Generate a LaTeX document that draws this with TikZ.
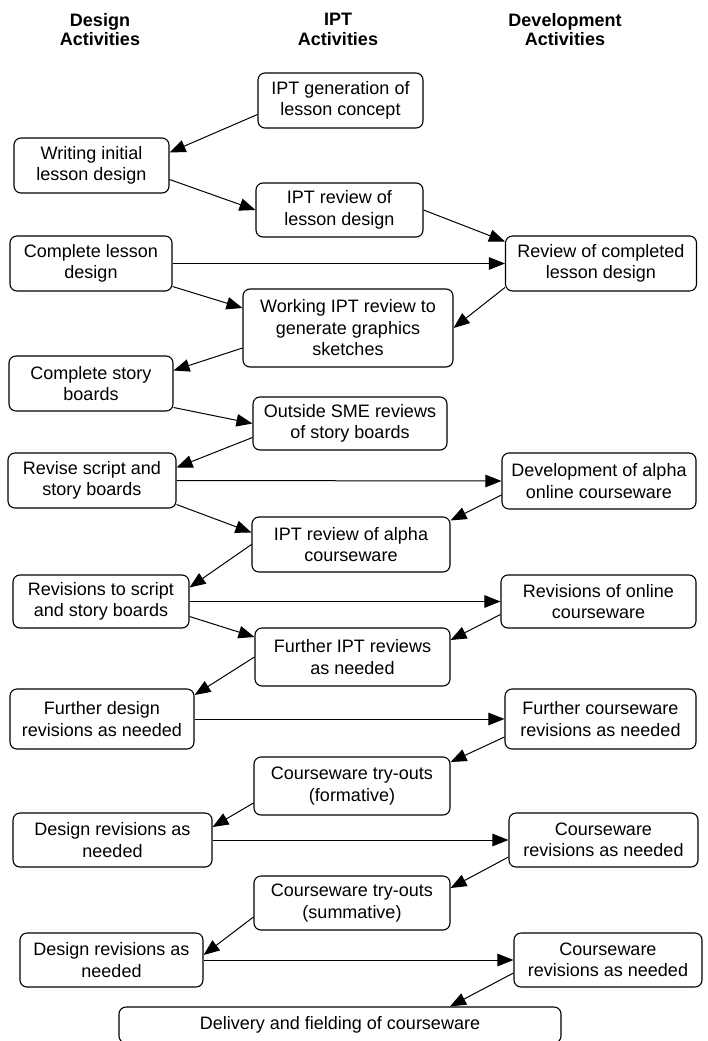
\documentclass[tikz,border=0pt]{standalone}
\usepackage{fontspec}
\setmainfont{Liberation Sans}
\usetikzlibrary{arrows.meta}

\begin{document}
\begin{tikzpicture}[x=1pt,y=-1pt,
    box/.style={draw, rounded corners=7pt, line width=1.1pt, align=center, inner sep=0pt, font=\fontsize{18}{21.5}\selectfont},
    sz/.style 2 args={minimum width=#1pt, minimum height=#2pt},
    hdr/.style={align=center, font=\fontsize{18}{19.5}\selectfont\bfseries},
    flow/.style={-{Triangle[length=16pt,width=12.5pt]}, line width=1pt}]
  \useasboundingbox (0,0) rectangle (707,1041);

  % column headings
  \node[hdr] (hdes) at (100,29.5) {Design\\Activities};
  \node[hdr] (hipt) at (338,29.5) {IPT\\Activities};
  \node[hdr] (hdev) at (565,29.5) {Development\\Activities};

  % activities
  \node[box, sz={165}{55}] (gen) at (340.5,100.5) {IPT generation of\\lesson concept};
  \node[box, sz={155}{55}] (write) at (91.5,165.5) {Writing initial\\lesson design};
  \node[box, sz={167}{54}] (rev) at (339.5,210) {IPT review of\\lesson design};
  \node[box, sz={162}{55}] (cl) at (91,263.5) {Complete lesson\\design};
  \node[box, sz={191}{55}] (revc) at (601,263.5) {Review of completed\\lesson design};
  \node[box, sz={210}{78}] (work) at (348,328) {Working IPT review to\\generate graphics\\sketches};
  \node[box, sz={164}{55}] (cs) at (91,383.5) {Complete story\\boards};
  \node[box, sz={194}{53}] (sme) at (350,423.5) {Outside SME reviews\\of story boards};
  \node[box, sz={168}{55}] (revs) at (92,480.5) {Revise script and\\story boards};
  \node[box, sz={194}{56}] (dev) at (599,481) {Development of alpha\\online courseware};
  \node[box, sz={198}{55}] (alrev) at (351,544.5) {IPT review of alpha\\courseware};
  \node[box, sz={176}{53}] (rts) at (101,601.5) {Revisions to script\\and story boards};
  \node[box, sz={195}{53}] (ro) at (598.5,601.5) {Revisions of online\\courseware};
  \node[box, sz={195}{58}] (fipt) at (352.5,657) {Further IPT reviews\\as needed};
  \node[box, sz={184}{60}] (fd) at (102,719) {Further design\\revisions as needed};
  \node[box, sz={191}{60}] (fc) at (600.5,719) {Further courseware\\revisions as needed};
  \node[box, sz={196}{58}] (try1) at (352,786) {Courseware try-outs\\(formative)};
  \node[box, sz={199}{54}] (dr1) at (112.5,840) {Design revisions as\\needed};
  \node[box, sz={189}{54}] (cr1) at (603.5,840) {Courseware\\revisions as needed};
  \node[box, sz={196}{54}] (try2) at (352,903) {Courseware try-outs\\(summative)};
  \node[box, sz={183}{54}] (dr2) at (111.5,960) {Design revisions as\\needed};
  \node[box, sz={188}{54}] (cr2) at (608,960) {Courseware\\revisions as needed};
  \node[box, sz={442}{36}] (del) at (340,1025) {Delivery and fielding of courseware};

  % connectors
  \draw[flow] ([yshift=-14pt]gen.west) -- ([yshift=13pt]write.east);
  \draw[flow] ([yshift=-14pt]write.east) -- (rev.west);
  \draw[flow] (rev.east) -- ([yshift=22pt]revc.west);
  \draw[flow] (cl.east) -- (revc.west);
  \draw[flow] ([yshift=-23pt]cl.east) -- ([yshift=20pt]work.west);
  \draw[flow] ([yshift=-24pt]revc.west) -- (work.east);
  \draw[flow] ([yshift=-20pt]work.west) -- ([yshift=13pt]cs.east);
  \draw[flow] ([yshift=-24pt]cs.east) -- (sme.west);
  \draw[flow] ([yshift=-14pt]sme.west) -- ([yshift=13pt]revs.east);
  \draw[flow] (revs.east) -- (dev.west);
  \draw[flow] ([yshift=-24pt]revs.east) -- ([yshift=12pt]alrev.west);
  \draw[flow] ([yshift=-14pt]dev.west) -- ([yshift=24pt]alrev.east);
  \draw[flow] (alrev.west) -- ([yshift=14pt]rts.east);
  \draw[flow] (rts.east) -- (ro.west);
  \draw[flow] ([yshift=-15pt]rts.east) -- ([yshift=20pt]fipt.west);
  \draw[flow] ([yshift=-13pt]ro.west) -- ([yshift=17pt]fipt.east);
  \draw[flow] (fipt.west) -- ([yshift=24pt]fd.east);
  \draw[flow] (fd.east) -- (fc.west);
  \draw[flow] ([yshift=-18pt]fc.west) -- ([yshift=24pt]try1.east);
  \draw[flow] ([yshift=-17pt]try1.west) -- ([yshift=13pt]dr1.east);
  \draw[flow] (dr1.east) -- (cr1.west);
  \draw[flow] ([yshift=-17pt]cr1.west) -- ([yshift=15pt]try2.east);
  \draw[flow] ([yshift=-14pt]try2.west) -- ([yshift=5pt]dr2.east);
  \draw[flow] (dr2.east) -- (cr2.west);
  \draw[flow] ([yshift=-13pt]cr2.west) -- ([xshift=110pt]del.north);
\end{tikzpicture}
\end{document}
